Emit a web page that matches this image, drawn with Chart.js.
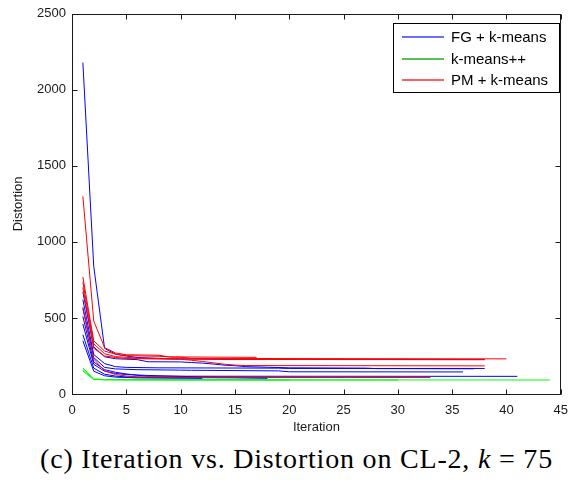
<!DOCTYPE html>
<html>
<head>
<meta charset="utf-8">
<script src="https://cdn.jsdelivr.net/npm/chart.js@4"></script>
<style>
  html, body { margin: 0; padding: 0; background: #fff; }
  #wrap { position: relative; width: 577px; height: 482px; overflow: hidden; }
  #c { position: absolute; left: 0; top: 0; }
  #caption {
    position: absolute; left: 8px; width: 577px; top: 443px;
    text-align: center; font-family: "Liberation Serif", serif;
    font-size: 28px; letter-spacing: 0.8px; color: #000; white-space: nowrap;
  }
</style>
</head>
<body>
<div id="wrap">
  <canvas id="c" width="577" height="440"></canvas>
  <div id="caption">(c) Iteration vs. Distortion on CL-2, <i>k</i> = 75</div>
</div>
<script>
// Axis ticks
const xTicks = [0, 5, 10, 15, 20, 25, 30, 35, 40, 45];
const yTicks = [0, 500, 1000, 1500, 2000, 2500];

// Distortion per run, as [iteration, distortion] at the iterations where it changes
const fgRuns = [
  [[1,2180],[2,840],[3,300],[4,262],[5,250],[6,240],[9,232],[14,228],[38,226]],
  [[1,670],[2,310],[3,245],[4,232],[6,226],[7,212],[10,211],[11,207],[12,203],[13,197],[14,190],[15,186],[16,180],[18,176],[20,172],[27,170],[28,167],[37,166]],
  [[1,620],[2,260],[3,200],[4,180],[5,175],[8,172],[19,170],[20,168],[38,168]],
  [[1,570],[2,240],[3,175],[4,165],[6,160],[10,157],[11,156],[19,152],[20,146],[36,145]],
  [[1,510],[2,210],[3,160],[4,143],[5,132],[6,123],[7,117],[41,116]],
  [[1,460],[2,195],[3,150],[4,135],[5,128],[7,122],[9,118],[12,112],[16,110],[25,108]],
  [[1,390],[2,170],[3,130],[4,118],[5,112],[7,109],[15,106],[18,103]],
  [[1,350],[2,150],[3,120],[4,111],[6,106],[9,104],[12,103]]
];
const kppRuns = [
  [[1,172],[2,98],[3,95],[6,93],[44,92]],
  [[1,160],[2,97],[3,94],[12,93],[30,92]],
  [[1,150],[2,96],[3,93],[20,92]]
];
const pmRuns = [
  [[1,1300],[2,480],[3,305],[4,270],[5,258],[8,255],[9,243],[10,242],[11,234],[40,231]],
  [[1,770],[2,350],[3,282],[4,262],[5,252],[8,248],[9,244],[17,241]],
  [[1,735],[2,330],[3,265],[4,246],[6,236],[10,230],[16,227],[38,226]],
  [[1,700],[2,300],[3,250],[4,240],[5,233],[10,228],[11,222],[12,214],[13,205],[14,196],[15,190],[16,187],[38,185]],
  [[1,560],[2,230],[3,152],[4,128],[5,118],[6,113],[8,110],[33,108]]
];

const groups = [
  { label: 'FG + k-means', color: '#0000ff', runs: fgRuns, order: 3 },
  { label: 'k-means++',    color: '#00ff00', runs: kppRuns, order: 1 },
  { label: 'PM + k-means', color: '#ff0000', runs: pmRuns, order: 2 }
];
// legend sample colours
const legendColors = ['#3b3bff', '#1fae1f', '#ff2a2a'];

const datasets = [];
groups.forEach(g => {
  g.runs.forEach(run => {
    datasets.push({
      label: g.label,
      data: run.map(([x, y]) => ({ x, y })),
      borderColor: g.color,
      borderWidth: 1,
      pointRadius: 0,
      tension: 0,
      fill: false,
      order: g.order
    });
  });
});

const INK = '#1a1a1a';

// Box around the axes with inward tick marks, plus the boxed legend
const framePlugin = {
  id: 'frame',
  afterDraw(chart) {
    const { ctx, chartArea: a, scales: { x, y } } = chart;
    ctx.save();
    ctx.strokeStyle = INK;
    ctx.lineWidth = 1;
    const L = Math.round(a.left) + 0.5, R = Math.round(a.right) - 0.5;
    const T = Math.round(a.top) + 0.5, B = Math.round(a.bottom) + 0.5;
    ctx.strokeRect(L, T, R - L, B - T);
    const tl = 5;
    ctx.beginPath();
    xTicks.forEach(v => {
      const px = Math.round(x.getPixelForValue(v)) + 0.5;
      ctx.moveTo(px, B); ctx.lineTo(px, B - tl);
      ctx.moveTo(px, T); ctx.lineTo(px, T + tl);
    });
    yTicks.forEach(v => {
      const py = Math.round(y.getPixelForValue(v)) + 0.5;
      ctx.moveTo(L, py); ctx.lineTo(L + tl, py);
      ctx.moveTo(R, py); ctx.lineTo(R - tl, py);
    });
    ctx.stroke();

    // legend
    const lx = 393.5, ly = 23.5, lw = 166, lh = 69;
    ctx.fillStyle = '#fff';
    ctx.fillRect(lx, ly, lw, lh);
    ctx.strokeStyle = '#000';
    ctx.strokeRect(lx, ly, lw, lh);
    ctx.font = '15px "Liberation Sans", Arial, sans-serif';
    ctx.textBaseline = 'middle';
    ctx.textAlign = 'left';
    groups.forEach((g, i) => {
      const rowY = Math.round(37 + i * 21.6);
      ctx.lineWidth = 1.4;
      ctx.strokeStyle = legendColors[i];
      ctx.beginPath();
      ctx.moveTo(402, rowY);
      ctx.lineTo(444, rowY);
      ctx.stroke();
      ctx.fillStyle = '#000';
      ctx.fillText(g.label, 451, rowY + 1);
    });
    ctx.restore();
  }
};

const tickFont = { family: '"Liberation Sans", Arial, sans-serif', size: 13 };
const titleFont = { family: '"Liberation Sans", Arial, sans-serif', size: 13 };

new Chart(document.getElementById('c'), {
  type: 'line',
  data: { datasets },
  options: {
    responsive: false,
    animation: false,
    events: [],
    layout: { padding: { left: 0, top: 12, right: 9, bottom: 0 } },
    plugins: { legend: { display: false }, tooltip: { enabled: false } },
    scales: {
      x: {
        type: 'linear', min: 0, max: 45,
        grid: { display: false, drawTicks: false },
        border: { display: false },
        afterBuildTicks(s) { s.ticks = xTicks.map(v => ({ value: v })); },
        ticks: { padding: 9, font: tickFont, color: INK, maxRotation: 0, autoSkip: false, callback: v => String(v) },
        title: { display: true, text: 'Iteration', font: titleFont, color: INK, padding: { top: 0, bottom: 5 } },
        afterFit(s) { s.height = 46; }
      },
      y: {
        type: 'linear', min: 0, max: 2500,
        grid: { display: false, drawTicks: false },
        border: { display: false },
        afterBuildTicks(s) { s.ticks = yTicks.map(v => ({ value: v })); },
        ticks: { padding: 6, font: tickFont, color: INK, autoSkip: false, callback: v => String(v) },
        title: { display: true, text: 'Distortion', font: titleFont, color: INK, padding: { top: 11, bottom: 0 } },
        afterFit(s) { s.width = 72; }
      }
    }
  },
  plugins: [framePlugin]
});
</script>
</body>
</html>
